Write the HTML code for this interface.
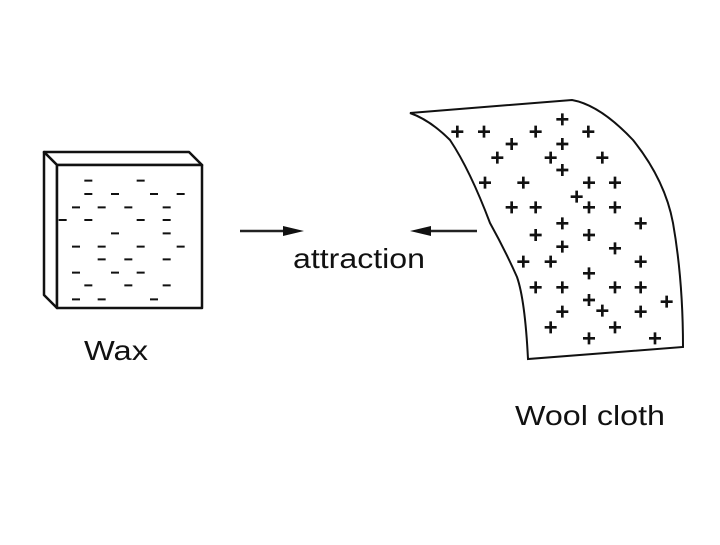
<!DOCTYPE html>
<html><head><style>html,body{margin:0;padding:0;background:#fff}</style></head>
<body>
<svg width="720" height="540" viewBox="0 0 720 540" xmlns="http://www.w3.org/2000/svg">
<rect width="720" height="540" fill="#fff"/>
<!-- wax box -->
<g stroke="#111" stroke-width="2.5" fill="#fff" stroke-linejoin="round">
<polygon points="44,152 189,152 202,165 57,165"/>
<polygon points="44,152 57,165 57,308 44,295"/>
<rect x="57" y="165" width="145" height="143"/>
</g>
<g transform="translate(30,140) scale(0.33333)" stroke="#111" stroke-width="6">
<path d="M163,122h24M320,122h24M163,162h24M243,162h24M360,162h24M440,162h24M126,202h24M203,202h24M283,202h24M398,202h24M86,240h24M163,240h24M320,240h24M398,240h24M243,280h24M398,280h24M126,320h24M203,320h24M320,320h24M440,320h24M203,358h24M283,358h24M398,358h24M126,398h24M243,398h24M320,398h24M163,436h24M283,436h24M398,436h24M126,478h24M203,478h24M360,478h24"/>
</g>
<!-- arrows -->
<g stroke="#222" stroke-width="2.5">
<line x1="240" y1="231" x2="290" y2="231"/>
<line x1="424" y1="231" x2="477" y2="231"/>
</g>
<polygon points="304,231 283,226 283,236" fill="#111"/>
<polygon points="410,231 431,226 431,236" fill="#111"/>
<g font-family="Liberation Sans, sans-serif" fill="#111">
<text x="293" y="268" font-size="28" textLength="132" lengthAdjust="spacingAndGlyphs">attraction</text>
<text x="84" y="360" font-size="28" textLength="64" lengthAdjust="spacingAndGlyphs">Wax</text>
<text x="515" y="425" font-size="28" textLength="150" lengthAdjust="spacingAndGlyphs">Wool cloth</text>
</g>
<!-- cloth -->
<path d="M410,113 L572,100 Q600,105 633,140 Q665,180 673,223 Q683,280 683,347 L528,359 Q525,300 517,277 Q505,250 490,223 Q470,170 450,140 Q430,120 410,113 Z" fill="#fff" stroke="#111" stroke-width="2"/>
<g transform="translate(400,90) scale(0.33333)" stroke="#111" stroke-width="8" id="p">
<path d="M172,107v36M154,125h36M252,107v36M234,125h36M407,107v36M389,125h36M487,70v36M469,88h36M565,107v36M547,125h36M335,144v36M317,162h36M292,185v36M274,203h36M487,144v36M469,162h36M452,185v36M434,203h36M607,185v36M589,203h36M487,222v36M469,240h36M255,260v36M237,278h36M370,260v36M352,278h36M567,260v36M549,278h36M645,260v36M627,278h36M530,302v36M512,320h36M335,334v36M317,352h36M407,334v36M389,352h36M567,334v36M549,352h36M645,334v36M627,352h36M722,382v36M704,400h36M487,382v36M469,400h36M407,417v36M389,435h36M567,417v36M549,435h36M487,452v36M469,470h36M645,457v36M627,475h36M370,497v36M352,515h36M452,497v36M434,515h36M722,497v36M704,515h36M567,532v36M549,550h36M407,574v36M389,592h36M487,574v36M469,592h36M645,574v36M627,592h36M722,574v36M704,592h36M800,617v36M782,635h36M567,612v36M549,630h36M607,644v36M589,662h36M487,647v36M469,665h36M722,647v36M704,665h36M452,694v36M434,712h36M645,694v36M627,712h36M567,727v36M549,745h36M765,727v36M747,745h36"/>
</g>
</svg>
</body></html>
